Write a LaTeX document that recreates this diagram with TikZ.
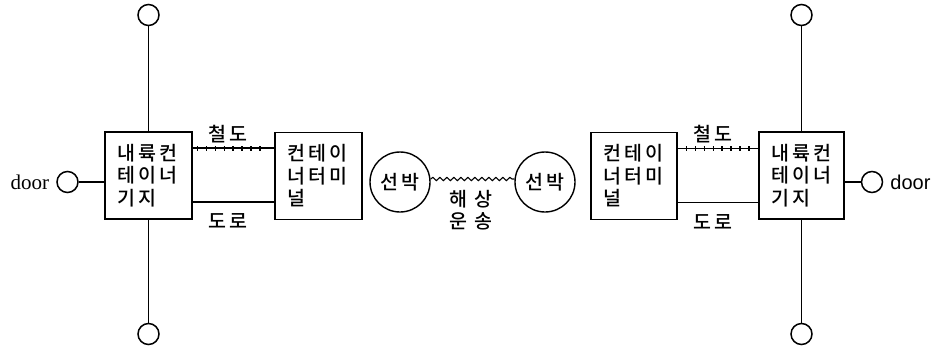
\documentclass[tikz,border=0pt]{standalone}
\usepackage{fontspec}
\newfontfamily\kr{Noto Sans CJK KR Medium}[LetterSpace=16]
\setmainfont{Liberation Serif}
\setsansfont{Liberation Sans}
\usetikzlibrary{decorations.pathmorphing}
\begin{document}
\begin{tikzpicture}[x=1pt,y=-1pt,
  every node/.style={inner sep=0pt},
  facility/.style={draw, line width=1.7pt, rectangle, minimum width=87pt,
    minimum height=87pt, inner xsep=12pt, text width=63pt, align=left,
    font=\kr\fontsize{19.5}{22.5}\selectfont},
  ship/.style={draw, line width=1.4pt, circle, minimum size=60pt,
    font=\kr\fontsize{19.5}{22}\selectfont},
  endpoint/.style={draw, line width=1.5pt, circle, minimum size=21pt},
  link/.style={line width=1.5pt},
  sleepers/.style={line width=5pt, dash pattern=on 1.4pt off 7.5pt},
  waves/.style={line width=1.1pt, decorate,
    decoration={snake, amplitude=1.6pt, segment length=7pt}},
  lbl/.style={font=\kr\fontsize{19.5}{21.5}\selectfont, align=center}]
\useasboundingbox (0,0) rectangle (936,351);

% inland container depots and container terminals
\node[facility] (lbase) at (148.5,175.5) {내륙컨\\테이너\\기지};
\node[facility] (lterm) at (318.5,176) {컨테이\\너터미\\널};
\node[facility, minimum width=86pt, text width=62pt] (rterm) at (634,176) {컨테이\\너터미\\널};
\node[facility, minimum width=85pt, text width=61pt] (rbase) at (801.5,175.5) {내륙컨\\테이너\\기지};

% ships
\node[ship] (lship) at (400,182) {선박};
\node[ship] (rship) at (545,182) {선박};

% end points
\node[endpoint] (ltop) at (148.5,15) {};
\node[endpoint] (lbot) at (148.5,334) {};
\node[endpoint] (rtop) at (801.5,15) {};
\node[endpoint] (rbot) at (801.5,334) {};
\node[endpoint] (ldoor) at (67.5,182) {};
\node[endpoint] (rdoor) at (872,182) {};
\node[anchor=east, font=\rmfamily\fontsize{21}{22}\selectfont] (ldoortxt) at ([xshift=-7pt]ldoor.west) {door};
\node[anchor=west, font=\sffamily\fontsize{20}{22}\selectfont] (rdoortxt) at ([xshift=7pt]rdoor.east) {door};

% vertical connections
\draw[link] (ltop) -- (lbase);
\draw[link] (lbase) -- (lbot);
\draw[link] (rtop) -- (rbase);
\draw[link] (rbase) -- (rbot);
\draw[link] (ldoor) -- (ldoor -| lbase.west);
\draw[link] (rdoor) -- (rdoor -| rbase.east);

% rail and road, left side
\draw[link] ([yshift=27.5pt]lbase.east) coordinate (lr) -- (lr -| lterm.west);
\draw[sleepers] ([xshift=4pt]lr) -- ([xshift=-8pt]lr -| lterm.west);
\draw[link] ([yshift=-26.5pt]lbase.east) coordinate (lrd) -- (lrd -| lterm.west);
\node[lbl] (lrail) at (228,134) {철도};
\node[lbl] (lroad) at (228,221) {도로};

% rail and road, right side
\draw[link] ([yshift=27.5pt]rterm.east) coordinate (rr) -- (rr -| rbase.west);
\draw[sleepers] ([xshift=8pt]rr) -- ([xshift=-8pt]rr -| rbase.west);
\draw[link] ([yshift=-26.5pt]rterm.east) coordinate (rrd) -- (rrd -| rbase.west);
\node[lbl] (rrail) at (713,134) {철도};
\node[lbl] (rroad) at (713,222) {도로};

% sea transport
\draw[waves] ([yshift=3pt]lship.east) -- ([yshift=3pt]rship.west);
\node[lbl] (sea) at (471,210) {해 상\\운 송};
\end{tikzpicture}
\end{document}
